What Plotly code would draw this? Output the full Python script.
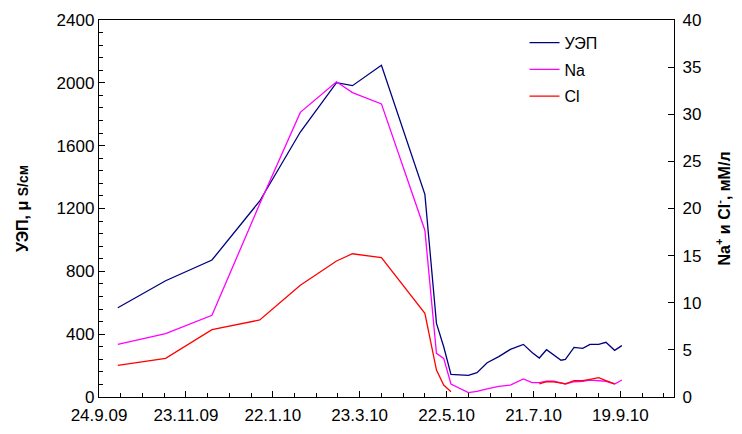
import plotly.graph_objects as go

# Sampling dates
dates = [
    "2009-10-07", "2009-11-09", "2009-12-11", "2010-01-13", "2010-02-10",
    "2010-03-07", "2010-03-18", "2010-04-07", "2010-05-07", "2010-05-15",
    "2010-05-20", "2010-05-25", "2010-06-06", "2010-06-12", "2010-06-19",
    "2010-06-27", "2010-07-05", "2010-07-14", "2010-07-20", "2010-07-25",
    "2010-07-30", "2010-08-04", "2010-08-09", "2010-08-12", "2010-08-18",
    "2010-08-24", "2010-08-29", "2010-09-04", "2010-09-09", "2010-09-15",
    "2010-09-20",
]

# Specific conductance, µS/cm (left axis)
uep = [568, 740, 872, 1248, 1687, 2001, 1982, 2112, 1290, 469,
       320, 144, 138, 155, 218, 257, 303, 335, 284, 248,
       301, 268, 234, 240, 316, 310, 335, 335, 348, 297,
       327]

# Na+ and Cl-, mM/l (right axis)
na = [5.59, 6.72, 8.67, 20.5, 30.2, 33.45, 32.3, 31.1, 17.7, 4.63,
      4.1, 1.38, 0.46, 0.6, 0.85, 1.13, 1.27, 1.91, 1.52, 1.52,
      1.67, 1.67, 1.5, 1.38, 1.62, 1.67, 1.8, 1.7, 1.67, 1.38,
      1.8]
cl = [3.36, 4.1, 7.14, 8.17, 11.85, 14.43, 15.2, 14.78, 8.88, 2.86,
      1.27, 0.56, None, None, None, None, None, None, None, 1.38,
      1.62, 1.6, 1.45, 1.4, 1.73, 1.73, 1.88, 2.05, 1.73, 1.4,
      None]

x_tickvals = ["2009-09-24", "2009-11-23", "2010-01-22", "2010-03-23",
              "2010-05-22", "2010-07-21", "2010-09-19"]
x_ticktext = ["24.9.09", "23.11.09", "22.1.10", "23.3.10",
              "22.5.10", "21.7.10", "19.9.10"]

FONT = "Liberation Sans, Arial, sans-serif"
DAY_MS = 86400000

fig = go.Figure()
fig.add_trace(go.Scatter(x=dates, y=uep, name="УЭП", mode="lines",
                         line=dict(color="#000080", width=1.3),
                         legendgroup="a"))
fig.add_trace(go.Scatter(x=dates, y=na, name="Na", mode="lines", yaxis="y2",
                         line=dict(color="#FF00FF", width=1.3),
                         legendgroup="b"))
fig.add_trace(go.Scatter(x=dates, y=cl, name="Cl", mode="lines", yaxis="y2",
                         line=dict(color="#FF0000", width=1.3),
                         connectgaps=False, legendgroup="c"))

fig.update_layout(
    width=742, height=434,
    margin=dict(l=99, r=68, t=20, b=37, autoexpand=False),
    paper_bgcolor="white", plot_bgcolor="white",
    font=dict(family=FONT, size=17, color="black"),
    showlegend=True,
    legend=dict(x=0.740, y=0.985, xanchor="left", yanchor="top",
                bgcolor="rgba(0,0,0,0)", font=dict(size=16),
                tracegroupgap=3),
    xaxis=dict(
        type="date", automargin=False,
        range=["2009-09-24", "2010-10-26"],
        tickvals=x_tickvals, ticktext=x_ticktext,
        ticks="inside", ticklen=6, tickcolor="black",
        showline=True, linecolor="black", linewidth=1.3,
        mirror=True, showgrid=False, zeroline=False,
        ticklabelstandoff=2,
        minor=dict(ticks="inside", ticklen=4, tickcolor="black",
                   tick0="2009-09-24", dtick=15 * DAY_MS, showgrid=False),
    ),
    yaxis=dict(
        range=[0, 2400], dtick=400, tick0=0, automargin=False,
        ticks="inside", ticklen=6, tickcolor="black",
        showline=True, linecolor="black", linewidth=1.3,
        showgrid=False, zeroline=False,
        minor=dict(ticks="inside", ticklen=4, tickcolor="black",
                   dtick=80, showgrid=False),
        title=dict(text="<b>УЭП, μ <span style='font-size:14px'>S/см</span></b>",
                   font=dict(size=16), standoff=24),
    ),
    yaxis2=dict(
        range=[0, 40], dtick=5, tick0=0, overlaying="y", side="right",
        automargin=False,
        ticks="inside", ticklen=6, tickcolor="black",
        showline=True, linecolor="black", linewidth=1.3,
        showgrid=False, zeroline=False,
        ticklabelstandoff=4,
        title=dict(text="<b>Na<sup>+</sup> и Cl<sup>-</sup>, мМ/л</b>",
                   font=dict(size=16), standoff=18),
    ),
)

fig.write_html("out.html")
